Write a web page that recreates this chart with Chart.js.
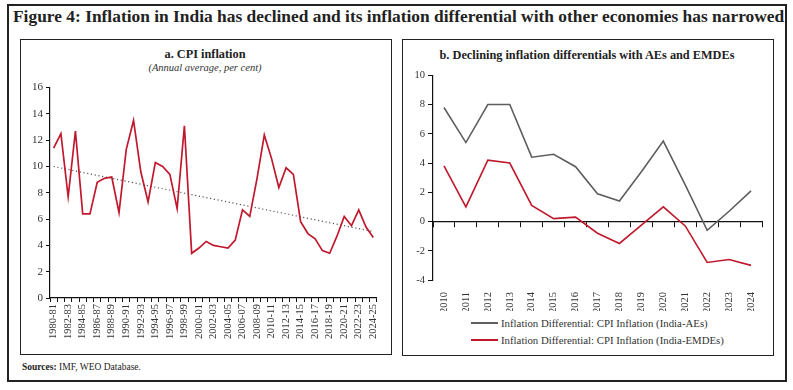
<!DOCTYPE html>
<html>
<head>
<meta charset="utf-8">
<script src="https://cdn.jsdelivr.net/npm/chart.js@4.4.1/dist/chart.umd.min.js"></script>
<style>
  body { margin: 0; background: #fff; font-family: 'Liberation Serif', serif; color: #222; }
  #page { position: relative; width: 793px; height: 390px; }
  #frame { position: absolute; left: 7px; top: 4px; width: 776px; height: 374px; border: 2px solid #222; }
  .panel { position: absolute; border: 1.5px solid #222; }
  #mainTitle { position: absolute; left: 13px; top: 6px; font-size: 17.4px; font-weight: bold; white-space: nowrap; }
  .ptitle { position: absolute; font-size: 12.3px; font-weight: bold; white-space: nowrap; text-align: center; }
  .psub { position: absolute; font-size: 10.5px; font-style: italic; white-space: nowrap; text-align: center; color: #333; }
  canvas { position: absolute; }
  #legend { position: absolute; left: 471px; top: 314px; font-size: 10.8px; color: #333; }
  .leg { height: 17px; display: flex; align-items: center; white-space: nowrap; }
  .leg span.ln { display: inline-block; width: 27px; height: 2px; margin-right: 3px; }
  #source { position: absolute; left: 22px; top: 362px; font-size: 9.5px; color: #222; }
</style>
</head>
<body>
<div id="page">
  <div id="frame"></div>
  <div id="mainTitle">Figure 4: Inflation in India has declined and its inflation differential with other economies has narrowed</div>
  <div class="panel" style="left:20px; top:39px; width:370px; height:314px;"></div>
  <div class="panel" style="left:402px; top:39px; width:370px; height:315px;"></div>
  <div class="ptitle" style="left:20px; top:47px; width:370px;">a. CPI inflation</div>
  <div class="psub" style="left:20px; top:62px; width:370px;">(Annual average, per cent)</div>
  <div class="ptitle" style="left:402px; top:48px; width:370px;">b. Declining inflation differentials with AEs and EMDEs</div>
  <canvas id="cpiChart" width="366" height="275" style="left:22px; top:78px;"></canvas>
  <canvas id="diffChart" width="365" height="245" style="left:405px; top:66px;"></canvas>
  <div id="legend"></div>
  <div id="source"><b>Sources:</b> IMF, WEO Database.</div>
</div>
<script>
// Panel a: CPI inflation, annual average (per cent)
const fiscalYears = [
  '1980-81', '1981-82', '1982-83', '1983-84', '1984-85', '1985-86', '1986-87', '1987-88',
  '1988-89', '1989-90', '1990-91', '1991-92', '1992-93', '1993-94', '1994-95', '1995-96',
  '1996-97', '1997-98', '1998-99', '1999-00', '2000-01', '2001-02', '2002-03', '2003-04',
  '2004-05', '2005-06', '2006-07', '2007-08', '2008-09', '2009-10', '2010-11', '2011-12',
  '2012-13', '2013-14', '2014-15', '2015-16', '2016-17', '2017-18', '2018-19', '2019-20',
  '2020-21', '2021-22', '2022-23', '2023-24', '2024-25'
];
const cpiInflation = [
  11.4, 12.5, 7.7, 12.7, 6.4, 6.4, 8.8, 9.1, 9.2, 6.5,
  11.3, 13.5, 9.6, 7.3, 10.3, 10.0, 9.4, 6.8, 13.1, 3.4,
  3.8, 4.3, 4.0, 3.9, 3.8, 4.4, 6.7, 6.2, 9.1, 12.4,
  10.6, 8.4, 9.9, 9.4, 5.8, 4.9, 4.5, 3.6, 3.4, 4.7,
  6.2, 5.5, 6.7, 5.4, 4.6
];
// linear trend, first and last year
const cpiTrendEnds = [10.0, 5.05];
const cpiTicks = [0, 2, 4, 6, 8, 10, 12, 14, 16];

// Panel b: inflation differentials (percentage points)
const diffYears = ['2010', '2011', '2012', '2013', '2014', '2015', '2016', '2017',
  '2018', '2019', '2020', '2021', '2022', '2023', '2024'];
const diffAEs = [7.8, 5.4, 8.0, 8.0, 4.4, 4.6, 3.75, 1.9, 1.4, 3.4, 5.5, 2.5, -0.6, 0.7, 2.1];
const diffEMDEs = [3.8, 1.0, 4.2, 4.0, 1.1, 0.2, 0.3, -0.8, -1.5, -0.25, 1.0, -0.3, -2.8, -2.6, -3.0];
const diffTicks = [-4, -2, 0, 2, 4, 6, 8, 10];

const serif = "'Liberation Serif', serif";
const red = '#c0182c';
const grey = '#5e5e5e';

Chart.defaults.font.family = serif;
Chart.defaults.color = '#333';

const trendData = fiscalYears.map((y, i) =>
  i === 0 ? cpiTrendEnds[0] : (i === fiscalYears.length - 1 ? cpiTrendEnds[1] : null));

new Chart(document.getElementById('cpiChart'), {
  type: 'line',
  data: {
    labels: fiscalYears,
    datasets: [{
      label: 'CPI inflation',
      data: cpiInflation,
      borderColor: red,
      borderWidth: 1.7,
      pointRadius: 0,
      tension: 0
    }, {
      label: 'Trend',
      data: trendData,
      spanGaps: true,
      borderColor: '#555',
      borderWidth: 1.2,
      borderDash: [1.2, 2.6],
      pointRadius: 0
    }]
  },
  options: {
    responsive: false,
    animation: false,
    layout: { padding: { top: 6, right: 11, left: 0, bottom: 0 } },
    plugins: { legend: { display: false }, tooltip: { enabled: false } },
    scales: {
      x: {
        offset: true,
        grid: { offset: true, drawOnChartArea: false, tickLength: 4, color: '#111' },
        border: { color: '#111', width: 1.2 },
        ticks: {
          autoSkip: false, maxRotation: 90, minRotation: 90, padding: 2,
          font: { size: 10.5 }, color: '#333',
          callback: (v, i) => (i % 2 === 0 ? fiscalYears[i] : '')
        },
        afterFit: s => { s.height = 55; }
      },
      y: {
        min: 0, max: 16,
        afterBuildTicks: s => { s.ticks = cpiTicks.map(v => ({ value: v })); },
        grid: { drawOnChartArea: false, tickLength: 4, color: '#111' },
        border: { color: '#111', width: 1.2 },
        ticks: { font: { size: 11 }, color: '#333', padding: 3 },
        afterFit: s => { s.width = 28; }
      }
    }
  }
});

const diffChart = new Chart(document.getElementById('diffChart'), {
  type: 'line',
  data: {
    labels: diffYears,
    datasets: [{
      label: 'Inflation Differential: CPI Inflation (India-AEs)',
      data: diffAEs,
      borderColor: grey,
      borderWidth: 1.6,
      pointRadius: 0,
      tension: 0
    }, {
      label: 'Inflation Differential: CPI Inflation (India-EMDEs)',
      data: diffEMDEs,
      borderColor: red,
      borderWidth: 1.6,
      pointRadius: 0,
      tension: 0
    }]
  },
  options: {
    responsive: false,
    animation: false,
    layout: { padding: { top: 5, right: 8, left: 0, bottom: 0 } },
    plugins: { legend: { display: false }, tooltip: { enabled: false } },
    scales: {
      x: {
        position: 'bottom',
        offset: true,
        grid: { display: false },
        border: { display: false },
        ticks: { autoSkip: false, maxRotation: 90, minRotation: 90, padding: 4, font: { size: 10.5 }, color: '#333' },
        afterFit: s => { s.height = 31; }
      },
      x0: {
        type: 'category',
        position: { y: 0 },
        offset: true,
        grid: { offset: true, drawOnChartArea: false, tickLength: 5, color: '#111' },
        border: { color: '#111', width: 1.2 },
        ticks: { display: false }
      },
      y: {
        min: -4, max: 10,
        afterBuildTicks: s => { s.ticks = diffTicks.map(v => ({ value: v })); },
        grid: { drawOnChartArea: false, tickLength: 5, color: '#111' },
        border: { color: '#111', width: 1.2 },
        ticks: { font: { size: 10.5 }, color: '#333', padding: 3 },
        afterFit: s => { s.width = 28; }
      }
    }
  }
});

// legend, stacked and left aligned as in the original
const legendBox = document.getElementById('legend');
diffChart.data.datasets.forEach(ds => {
  const row = document.createElement('div');
  row.className = 'leg';
  const ln = document.createElement('span');
  ln.className = 'ln';
  ln.style.background = ds.borderColor;
  row.appendChild(ln);
  row.appendChild(document.createTextNode(ds.label));
  legendBox.appendChild(row);
});
</script>
</body>
</html>
